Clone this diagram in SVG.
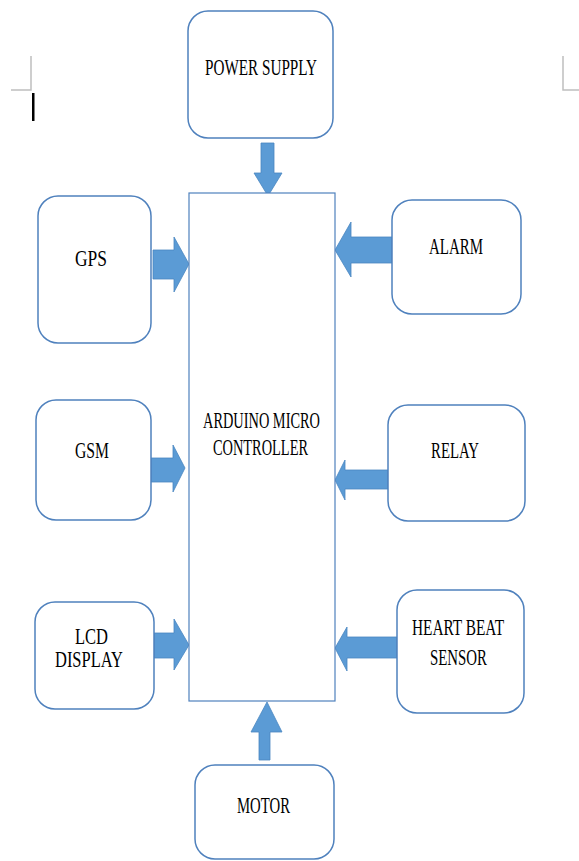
<svg xmlns="http://www.w3.org/2000/svg" width="579" height="861" viewBox="0 0 579 861">
<style>
.box{fill:#fff;stroke:#4f81bd;stroke-width:1.5}
.main{fill:#fff;stroke:#4f81bd;stroke-width:1.2}
.arr{fill:#5b9bd5;stroke:#4a86c0;stroke-width:0.8}
.t{font-family:"Liberation Serif","Times New Roman",serif;font-size:24px;fill:#000}
.mark{stroke:#bfbfbf;stroke-width:1.5;fill:none}
</style>
<rect width="579" height="861" fill="#fff"/>
<path class="mark" d="M31 56V90H11M563 56V90H579"/>
<rect x="32" y="93" width="2.5" height="28" fill="#000"/>
<g id="connectors">
<path class="arr" d="M261 143H274V173H282L268 196L254 173H261Z"/>
<path class="arr" d="M153 250H174V237L189 264L174 292V279H153Z"/>
<path class="arr" d="M151 458H173V445L185 468L173 492V482H151Z"/>
<path class="arr" d="M154 633H174V619L189 645L174 670V658H154Z"/>
<path class="arr" d="M392 237H351V222L335 250L351 277V263H392Z"/>
<path class="arr" d="M388 470H345V460L335 480L345 500V489H388Z"/>
<path class="arr" d="M397 637H347V627L335 648L347 671V658H397Z"/>
<path class="arr" d="M259 760V732H251L267 702L282 732H270V760Z"/>
</g>
<g id="arduino"><rect class="main" x="189" y="193" width="146" height="508"/>
<text class="t" x="203" y="428" textLength="117" lengthAdjust="spacingAndGlyphs">ARDUINO MICRO</text>
<text class="t" x="213" y="455" textLength="95" lengthAdjust="spacingAndGlyphs">CONTROLLER</text></g>
<g id="power"><rect class="box" x="188" y="11" width="145" height="127" rx="20"/>
<text class="t" x="205" y="75" textLength="112" lengthAdjust="spacingAndGlyphs">POWER SUPPLY</text></g>
<g id="gps"><rect class="box" x="38" y="196" width="113" height="147" rx="20"/>
<text class="t" x="75" y="266" textLength="32" lengthAdjust="spacingAndGlyphs">GPS</text></g>
<g id="gsm"><rect class="box" x="36" y="400" width="115" height="120" rx="20"/>
<text class="t" x="75" y="458" textLength="34" lengthAdjust="spacingAndGlyphs">GSM</text></g>
<g id="lcd"><rect class="box" x="35" y="602" width="119" height="107" rx="20"/>
<text class="t" x="75" y="644" textLength="33" lengthAdjust="spacingAndGlyphs">LCD</text>
<text class="t" x="55" y="667" textLength="68" lengthAdjust="spacingAndGlyphs">DISPLAY</text></g>
<g id="alarm"><rect class="box" x="392" y="200" width="129" height="114" rx="20"/>
<text class="t" x="429" y="254" textLength="54" lengthAdjust="spacingAndGlyphs">ALARM</text></g>
<g id="relay"><rect class="box" x="388" y="405" width="137" height="116" rx="20"/>
<text class="t" x="431" y="458" textLength="48" lengthAdjust="spacingAndGlyphs">RELAY</text></g>
<g id="heartbeat"><rect class="box" x="397" y="590" width="127" height="123" rx="20"/>
<text class="t" x="412" y="635" textLength="92" lengthAdjust="spacingAndGlyphs">HEART BEAT</text>
<text class="t" x="430" y="665" textLength="57" lengthAdjust="spacingAndGlyphs">SENSOR</text></g>
<g id="motor"><rect class="box" x="195" y="765" width="139" height="94" rx="20"/>
<text class="t" x="237" y="813" textLength="53" lengthAdjust="spacingAndGlyphs">MOTOR</text></g>
</svg>
